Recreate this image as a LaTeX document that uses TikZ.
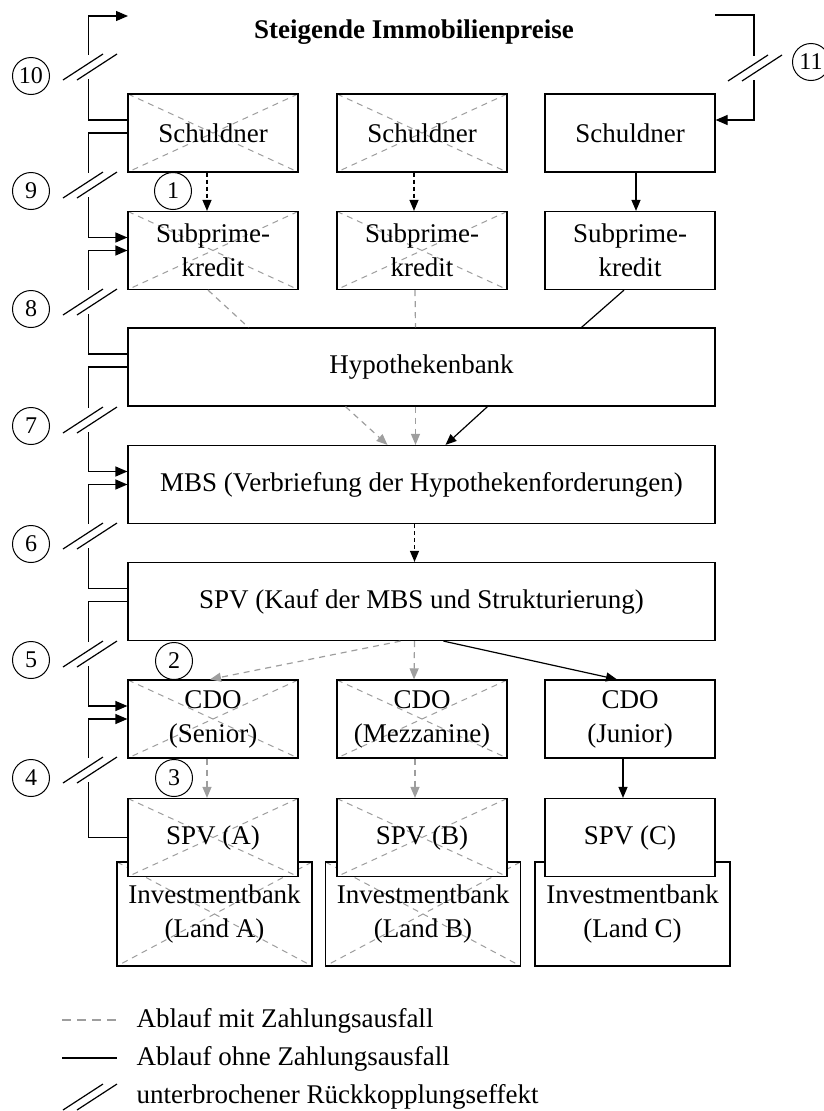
\documentclass[tikz,border=0pt]{standalone}
\usepackage{fontspec}
\setmainfont{Liberation Serif}
\usepackage{xcolor}
\usepackage{tikz}
\usetikzlibrary{arrows.meta}

\definecolor{lossgray}{RGB}{158,158,158}

\begin{document}
\begin{tikzpicture}[x=1pt, y=-1pt,
			box/.style={rectangle, draw=black, line width=1.2pt, fill=white, minimum width=170pt, minimum height=78pt, inner sep=0pt, align=center, font=\fontsize{27}{34}\selectfont},
			wide/.style={box, minimum width=587pt},
			bank/.style={box, minimum width=195pt, minimum height=104pt},
			cross/.style={lossgray, line width=1pt, dash pattern=on 6pt off 5pt},
			crossed/.style={path picture={\draw[cross] (path picture bounding box.north west) -- (path picture bounding box.south east) (path picture bounding box.north east) -- (path picture bounding box.south west);}},
			num/.style={circle, draw=black, line width=1pt, minimum size=37pt, inner sep=0pt, font=\fontsize{24}{24}\selectfont},
			tip/.style={-{Triangle[length=11pt,width=9pt]}},
			okline/.style={black, line width=1.2pt},
			okflow/.style={okline, tip},
			dflow/.style={okline, tip, dash pattern=on 4pt off 3pt},
			lossline/.style={lossgray, line width=1.2pt, dash pattern=on 6pt off 5pt},
			lossflow/.style={lossline, tip},
			fb/.style={black, line width=1.2pt, -{Triangle[length=12pt,width=10pt]}},
			brk/.style={black, line width=1.2pt},
			legend/.style={anchor=base west, font=\fontsize{27}{34}\selectfont}
		]
		\useasboundingbox (0,0) rectangle (823,1111);

		% Title
		\node[font=\bfseries\fontsize{27}{34}\selectfont, anchor=base] (title) at (414,38) {Steigende Immobilienpreise};
		\coordinate (top10) at (128,16);
		\coordinate (top11) at (715,15);

		% Schuldner
		\node[box, crossed] (schuldA) at (213,133) {Schuldner};
		\node[box, crossed] (schuldB) at (422,133) {Schuldner};
		\node[box] (schuldC) at (630,133) {Schuldner};

		% Subprime loans
		\node[box, crossed] (subA) at (213,250.5) {Subprime-\\kredit};
		\node[box, crossed] (subB) at (422,250.5) {Subprime-\\kredit};
		\node[box] (subC) at (630,250.5) {Subprime-\\kredit};

		% Bank, MBS, SPV
		\node[wide] (hyp) at (421.5,367) {Hypothekenbank};
		\node[wide] (mbs) at (421.5,484.5) {MBS (Verbriefung der Hypothekenforderungen)};
		\node[wide] (spv) at (421.5,601.5) {SPV (Kauf der MBS und Strukturierung)};

		% CDO tranches
		\node[box, crossed] (cdoA) at (213,719) {CDO\\(Senior)};
		\node[box, crossed] (cdoB) at (422,719) {CDO\\(Mezzanine)};
		\node[box] (cdoC) at (630,719) {CDO\\(Junior)};

		% Investment banks, SPVs on top
		\node[bank, crossed] (bankA) at (214.5,914) {Investmentbank\\(Land A)};
		\node[bank, crossed] (bankB) at (423,914) {Investmentbank\\(Land B)};
		\node[bank] (bankC) at (632.5,914) {Investmentbank\\(Land C)};
		\node[box, crossed] (spvA) at (213,837.5) {SPV (A)};
		\node[box, crossed] (spvB) at (422,837.5) {SPV (B)};
		\node[box] (spvC) at (630,837.5) {SPV (C)};

		% Flows
		\draw[dflow] ([xshift=-6pt]schuldA.south) -- ([xshift=-6pt]subA.north);
		\draw[dflow] ([xshift=-8pt]schuldB.south) -- ([xshift=-8pt]subB.north);
		\draw[okflow] ([xshift=6pt]schuldC.south) -- ([xshift=6pt]subC.north);
		\draw[lossline] ([xshift=-5pt]subA.south) -- ([xshift=-173pt]hyp.north);
		\draw[lossline] ([xshift=-7pt]subB.south) -- ([xshift=-6pt]hyp.north);
		\draw[okline] ([xshift=-6pt]subC.south) -- ([xshift=160pt]hyp.north);
		\draw[lossflow] ([xshift=-76pt]hyp.south) -- ([xshift=-34pt]mbs.north);
		\draw[lossflow] ([xshift=-6pt]hyp.south) -- ([xshift=-6pt]mbs.north);
		\draw[okflow] ([xshift=66pt]hyp.south) -- ([xshift=24pt]mbs.north);
		\draw[dflow] ([xshift=-7pt]mbs.south) -- ([xshift=-7pt]spv.north);
		\draw[lossflow] ([xshift=-21pt]spv.south) -- ([xshift=-3pt]cdoA.north);
		\draw[lossflow] ([xshift=-7pt]spv.south) -- ([xshift=-8pt]cdoB.north);
		\draw[okflow] ([xshift=22pt]spv.south) -- ([xshift=-13pt]cdoC.north);
		\draw[lossflow] ([xshift=-6pt]cdoA.south) -- ([xshift=-6pt]spvA.north);
		\draw[lossflow] ([xshift=-7pt]cdoB.south) -- ([xshift=-7pt]spvB.north);
		\draw[okflow] ([xshift=-7pt]cdoC.south) -- ([xshift=-7pt]spvC.north);

		% Feedback loops
		\draw[fb] ([yshift=13pt]schuldA.west) -- ++(-39,0) |- (top10);
		\draw[fb] (schuldA.west) -- ++(-39,0) |- ([yshift=13pt]subA.west);
		\draw[fb] ([yshift=13pt]hyp.west) -- ++(-39,0) |- (subA.west);
		\draw[fb] (hyp.west) -- ++(-39,0) |- ([yshift=13pt]mbs.west);
		\draw[fb] ([yshift=13pt]spv.west) -- ++(-39,0) |- (mbs.west);
		\draw[fb] (spv.west) -- ++(-39,0) |- ([yshift=13pt]cdoA.west);
		\draw[fb] (spvA.west) -- ++(-39,0) |- (cdoA.west);
		\draw[fb] (top11) -- ++(39,0) |- ([yshift=13pt]schuldC.east);

		% Breaks
		\foreach \x/\y in {89/67, 89/185, 89/302, 89/420, 89/536, 89/654, 89/770, 754/68} {
			\fill[white] (\x-5,\y-12) rectangle (\x+5,\y+12);
			\draw[brk] (\x-26,\y+13) -- (\x+14,\y-13) (\x-12,\y+13) -- (\x+28,\y-13);
		}

		% Numbers
		\node[num] (n1) at (173,191) {1};
		\node[num] (n2) at (174,661) {2};
		\node[num] (n3) at (174,778) {3};
		\node[num] (n4) at (31,778) {4};
		\node[num] (n5) at (31,660) {5};
		\node[num] (n6) at (31,544) {6};
		\node[num] (n7) at (31,426) {7};
		\node[num] (n8) at (31,309) {8};
		\node[num] (n9) at (31,191) {9};
		\node[num] (n10) at (31,76) {10};
		\node[num] (n11) at (811,62) {11};

		% Legend
		\node[legend] (leg1) at (133,1027) {Ablauf mit Zahlungsausfall};
		\node[legend] (leg2) at (133,1065) {Ablauf ohne Zahlungsausfall};
		\node[legend] (leg3) at (133,1103) {unterbrochener Rückkopplungseffekt};
		\draw[lossline, dash pattern=on 9pt off 6pt] (62,1020) -- (117,1020);
		\draw[okline] (62,1058) -- (117,1058);
		\draw[brk] (63,1110) -- (103,1084) (77,1110) -- (117,1084);

	\end{tikzpicture}
\end{document}
